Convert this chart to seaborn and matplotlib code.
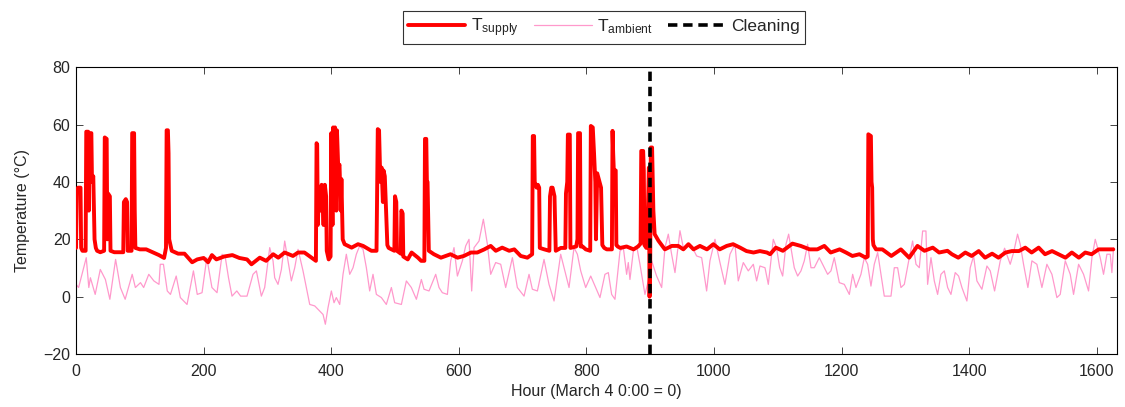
import numpy as np
import pandas as pd
import seaborn as sns
import matplotlib
matplotlib.use("Agg")
import matplotlib.pyplot as plt

# ---------------- data ----------------
supply_hours = [
    0, 1, 3, 7, 8, 10, 15, 16, 19, 20, 21, 24, 25, 27, 29, 31, 33, 38, 44, 45, 48, 49, 50, 53, 54, 60, 74, 75, 78, 80, 81, 87, 88, 91, 92, 93,
    100, 110, 120, 130, 138, 141, 142, 144, 145, 146, 150, 160, 170, 182, 190, 200, 207, 213, 220, 232, 245, 256, 268,
    270, 275, 288, 298, 309, 317, 327, 340, 348, 358, 369, 376, 377, 378, 379, 381, 383, 385, 388, 390, 392, 393, 396, 399,
    400, 402, 403, 405, 406, 408, 409, 411, 413, 415, 416, 418, 421, 432, 442, 450, 463, 471, 473, 475, 477, 479, 481, 482, 484, 486, 488, 490,
    499, 500, 502, 503, 509, 510, 512, 513, 520, 526, 536, 541, 546, 547, 549, 550, 551, 553,
    561, 572, 587, 598, 608, 619, 629, 640, 650, 658, 668, 679, 687, 697, 707.5, 715, 716, 718, 719, 722, 724, 726, 727, 734, 742, 743, 745, 747, 750, 752,
    760, 767, 768, 770, 771, 774, 775, 784, 786, 787, 790, 791, 794, 799, 806, 807, 810, 812, 814, 815, 817, 823, 825,
    828, 832, 840, 841, 842, 843, 846, 847, 849, 853, 863, 874, 881, 885, 886, 889, 890, 891, 894, 896, 898, 899, 900, 901, 903, 905, 907, 913,
    923, 934, 944, 952, 960, 968, 978, 989, 999, 1009, 1020, 1030, 1041, 1051, 1062, 1072, 1083, 1088,
    1097, 1108, 1123, 1136, 1150, 1162, 1173, 1183, 1197, 1207, 1217, 1228, 1238, 1241, 1242, 1246, 1247, 1248, 1249, 1250, 1254, 1264, 1278,
    1293, 1306, 1319, 1330, 1343, 1353, 1366, 1373,
    1383, 1394, 1404, 1415, 1425, 1436, 1446, 1457, 1467, 1478, 1488, 1498, 1509, 1519, 1530, 1540, 1551, 1561, 1572, 1582, 1592, 1603, 1613, 1626,
]
supply_temp = [
    17, 36, 38, 38, 17, 16, 16, 57.5, 57.5, 30, 57, 57, 40, 42, 20, 17, 16, 15.5, 16, 55.5, 55, 20, 36, 35, 16, 15.5, 15.5, 33, 34, 33, 16, 16, 57, 57, 30, 17,
    16.5, 16.5, 15.5, 14.5, 13.5, 17, 58, 58, 50, 20, 16, 15, 15, 12, 13, 13.5, 12, 14.5, 13, 14, 14.5, 13.5, 13,
    12.5, 11.3, 13.6, 12.5, 14.8, 13.6, 15.4, 14.2, 15.4, 15.4, 13.6, 12.5, 53.5, 53, 25, 38, 30, 39, 25, 39, 35, 16, 13, 14,
    57, 25, 59, 40, 59, 30, 58, 45, 46, 30, 41, 20, 18.3, 17.1, 18.3, 17.7, 16, 16, 58.4, 58, 40, 45, 33, 44, 42, 30, 18, 17,
    16, 35, 33, 16, 15, 30, 29, 14, 13, 15.4, 13.6, 12.5, 12.5, 55, 55, 40, 40, 16,
    14.8, 13.6, 14.8, 13.6, 14.2, 15.4, 15.4, 16.5, 17.7, 16, 17.1, 16, 16.5, 14.2, 13.6, 14.8, 56, 56, 40, 38, 39, 38, 17, 16.5, 16, 35, 38, 38, 35, 16,
    17, 17, 36, 40, 56.5, 56.5, 17, 17.5, 20, 57, 57, 17.5, 17.5, 16.5, 16, 59.5, 59, 50, 40, 20, 43, 38, 18,
    17, 16.5, 16.5, 57.8, 50, 44, 44, 18, 17.5, 17, 17.5, 16.5, 17.5, 18.5, 50.8, 50.8, 44, 18, 17, 25, 45, 0, 10, 52, 52, 30, 21.8, 19.5,
    16.5, 17.7, 17.7, 16.5, 18.3, 16.5, 17.7, 16.5, 18.3, 16.5, 17.7, 18.3, 17.1, 15.9, 15.4, 15.9, 15.4, 14.8,
    17.1, 16, 18.5, 17.7, 16.5, 16.5, 17.7, 15.4, 16.5, 15.4, 14.2, 14.8, 13.6, 14, 56.6, 56, 40, 38, 20, 18, 16.5, 16.5, 14.2,
    16.5, 13.6, 17.7, 16, 17.1, 15.4, 16, 14.8,
    13.6, 15.4, 14.2, 15.9, 13.6, 15, 13.6, 15.4, 15.9, 15.9, 17.1, 15.4, 17.1, 14.8, 15.9, 14.8, 13.6, 15.4, 13.6, 15.4, 14.8, 16.5, 16.5, 16.5,
]

ambient_hours = [
    0, 4, 16, 20, 22.5, 30, 38, 46, 53, 62, 69.5, 77, 88, 93, 101, 106, 114, 122, 130, 132, 137, 143, 148, 157, 163.5, 174, 184, 190,
    197.5, 205, 213, 221, 229, 234, 239, 244.5, 252, 258, 268,
    277.4, 282.7, 290.5, 295.7, 303.6, 308.8, 311.4, 316.6, 321.9, 327.1, 332.3, 337.5, 342.8, 348, 355.8, 366.3, 374.1, 382, 387.2, 390.8,
    395, 400.2, 404.4, 408, 413.3, 418.5, 423.7, 429, 434.2, 439.4, 444.6, 449.9, 455.1, 460.3, 465.5, 470.8, 478.6, 486.4, 494.3, 499.5,
    510, 517.8, 525.6, 533.5, 541.3,
    545.5, 553.3, 563.8, 569, 574.2, 582.1, 587.3, 592.5, 597.8, 605.6, 610.8, 616, 620.2, 623.9, 631.7, 638.5, 644.8, 650, 657.8, 665.7,
    673.5, 684, 691.8, 702.3, 710.1, 715.3, 723.2, 733.6, 741.4, 749.3, 759.7, 765, 772.8, 780.6, 785.9, 791.1, 798.9, 806.8, 814.6,
    821.3, 829.1, 834.4, 839.6, 844.8, 852.7, 857.9, 863.1, 865.7, 868.3, 873.6, 878.8, 884, 891.8, 897.1, 902.3, 910.1, 918, 923.2, 928.4,
    933.6, 938.9, 946.7, 951.9, 957.2, 965, 972.8, 980.7, 988.5, 993.7, 1001.6, 1009.4, 1017.2, 1025.1, 1032.9, 1038.1, 1046, 1053.8,
    1061.7, 1066.9, 1072.1, 1080, 1085.2, 1093, 1098, 1103,
    1107.7, 1112.9, 1117.1, 1120.7, 1125.9, 1131.2, 1136.4, 1141.6, 1146.8, 1152.1, 1157.3, 1165.1, 1173, 1178.2, 1183.4, 1188.6, 1196.5,
    1204.3, 1212.2, 1217.4, 1222.6, 1230.4, 1235.7, 1240.9, 1246.1, 1251.3, 1256.6, 1261.8, 1267, 1277.5, 1282.7, 1287.9, 1293.1, 1298.4,
    1306.2, 1311.4, 1316.7, 1321.9, 1327.1, 1332.3, 1334.9, 1340.2, 1345.4, 1350.6, 1355.8, 1361.1, 1366.3, 1371.5,
    1378.2, 1383.5, 1388.7, 1396.5, 1401.7, 1407, 1412.2, 1420, 1427.9, 1433.1, 1439.9, 1448.8, 1455.6, 1464.4, 1469.7, 1475.9, 1480.1,
    1485.3, 1492.1, 1498.4, 1506.2, 1514.1, 1521.9, 1529.8, 1537.6, 1542.8, 1550.7, 1558.5, 1563.7, 1571.6, 1579.4, 1587.2, 1592.5,
    1597.7, 1605.5, 1610.7, 1616, 1621.2, 1623.8, 1626.4,
]
ambient_temp = [
    4.3, 3.2, 13.6, 3.2, 6.6, 0.8, 9.5, 6, -0.9, 13, 3.2, -0.9, 7.8, 3.2, 4.9, 3.2, 7.8, 5.5, 4.3, 11.3, 11.3, 2, 0.8, 7.2, -0.3, -2.7, 9, 0.8,
    1.4, 13.6, 3.2, 1.4, 14.8, 13.6, 6.6, 0.2, 2, 0.2, 0.2,
    7.8, 9, 0.2, 3.2, 17.1, 12.5, 6.6, 4.3, 9.5, 19.4, 12.5, 5.5, 10.1, 16.5, 9, -2.7, -3.2, -5, -6.2, -9.6,
    -3.8, 2, -2.1, -0.3, -2.7, 7.8, 14.8, 7.8, 10.1, 14.8, 17.7, 16.5, 10.1, 2, 7.8, 0.8, -0.3, -2.7, 3.2, -2.1,
    -2.7, 5.5, 3.2, -0.9, 6,
    2.6, 2, 7.8, 3.2, 1.4, 0.8, 12.5, 17.1, 7.2, 12.5, 17.7, 20, 2, 17.1, 19.4, 27, 18.3, 7.8, 11.9, 11.3,
    3.2, 13.6, 3.2, 0.2, 7.8, 2.6, 2, 13, 4.3, -1.5, 14.8, 10.1, 3.2, 17.1, 14.8, 9, 3.2, 7.2, 3.2,
    -0.3, 7.8, 8.4, 0.8, -0.9, 15.9, 17.1, 7.8, 11.9, 6, 15.9, 17.7, 11.3, 0.8, 5.5, 12.5, 7.2, 3.2, 17.1, 21.8,
    14.8, 8.4, 23, 17.1, 17.7, 17.7, 14.2, 13.6, 2, 12.5, 20, 11.9, 4.3, 14.8, 18.3, 5.5, 11.9, 9,
    11.3, 5.5, 10.7, 10.1, 4.3, 20, 17.1, 10.1,
    7.2, 18.3, 21.8, 17.1, 10.1, 7.2, 9, 12.5, 18.3, 10.1, 10.1, 13.6, 10.1, 7.8, 9, 13.6, 4.9,
    4.3, 0.8, 7.8, 3.2, 7.8, 13.6, 11.3, 3.7, 11.3, 15.4, 7.8, 0.2, 0.2, 10.1, 10.1, 3.2, 4.3,
    13.6, 19.4, 11.3, 10.1, 22.9, 22.9, 4.3, 13.6, 5.5, 0.8, 7.8, 9, 3.2, 0.8,
    8.4, 7.2, 3.2, -1.5, 10.1, 14.2, 5.5, 2.6, 10.7, 9, 2, 12.5, 16.9, 11.3, 15.4, 21.8, 18.3,
    11.3, 3.2, 12.5, 11.3, 3.2, 11.3, 7.8, -0.3, 0.8, 12.5, 7.8, 0.8, 11.3, 7.8, 2, 13.6,
    20, 13.6, 7.8, 14.8, 14.8, 8.4, 17.1,
]

cleaning_hour = 900
series_labels = [r"T$_{\mathrm{supply}}$", r"T$_{\mathrm{ambient}}$", "Cleaning"]
x_ticks = [0, 200, 400, 600, 800, 1000, 1200, 1400, 1600]
y_ticks = [-20, 0, 20, 40, 60, 80]
x_label = "Hour (March 4 0:00 = 0)"
y_label = "Temperature (\u00b0C)"

assert len(supply_hours) == len(supply_temp)
assert len(ambient_hours) == len(ambient_temp)

# ---------------- style ----------------
sns.set_style("ticks")
plt.rcParams["font.family"] = ["Liberation Sans", "DejaVu Sans"]
plt.rcParams["mathtext.fontset"] = "custom"
plt.rcParams["mathtext.rm"] = "Liberation Sans"
plt.rcParams["mathtext.it"] = "Liberation Sans:italic"
plt.rcParams["axes.unicode_minus"] = True

fig = plt.figure(figsize=(11.25, 4.07), dpi=100)
ax = fig.add_axes([0.0676, 0.130, 0.9254, 0.705])

df_s = pd.DataFrame({"hour": supply_hours, "temp": supply_temp})
df_a = pd.DataFrame({"hour": ambient_hours, "temp": ambient_temp})

sns.lineplot(data=df_a, x="hour", y="temp", ax=ax, color="#ff99cc", lw=0.9,
             estimator=None, label=series_labels[1], zorder=2)
sns.lineplot(data=df_s, x="hour", y="temp", ax=ax, color="#ff0000", lw=2.8,
             estimator=None, label=series_labels[0], zorder=3)
ax.axvline(cleaning_hour, color="black", lw=2.6, ls=(0, (2.6, 1.6)), zorder=4,
           label=series_labels[2])

ax.set_xlim(0, 1632)
ax.set_ylim(-20, 80)
ax.set_xticks(x_ticks)
ax.set_yticks(y_ticks)
ax.set_xlabel(x_label, fontsize=11.5, labelpad=4)
ax.set_ylabel(y_label, fontsize=11.5, labelpad=10)
ax.tick_params(direction="in", top=True, right=True, length=5, width=0.6,
               labelsize=11.5)
ax.tick_params(axis="x", pad=7)
ax.tick_params(axis="y", pad=4)
for sp in ax.spines.values():
    sp.set_visible(True)
    sp.set_linewidth(0.8)
    sp.set_color("black")

handles, labels = ax.get_legend_handles_labels()
order = [labels.index(series_labels[0]), labels.index(series_labels[1]), labels.index(series_labels[2])]
leg = ax.legend([handles[i] for i in order], [labels[i] for i in order],
                loc="lower center", bbox_to_anchor=(0.507, 1.08), ncol=3,
                frameon=True, fancybox=False, edgecolor="black", fontsize=12.5,
                handlelength=3.3, handletextpad=0.3, columnspacing=0.9,
                borderpad=0.3, borderaxespad=0)
leg.get_frame().set_linewidth(0.8)

fig.savefig("out.png", dpi=100)
